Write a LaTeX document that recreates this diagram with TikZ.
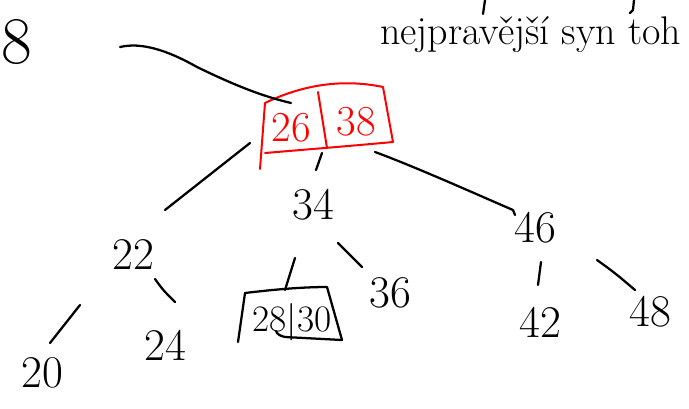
\documentclass[tikz,border=0pt]{standalone}
\usetikzlibrary{calc}
\tikzset{
  num/.style={inner sep=0pt, font=\fontsize{34}{36}\selectfont},
  rednum/.style={inner sep=0pt, text=red, font=\fontsize{32}{34}\selectfont},
  pen/.style={line width=1.7pt, line cap=round, line join=round, black},
  redpen/.style={line width=1.5pt, line cap=round, line join=round, red},
}
\begin{document}
\begin{tikzpicture}[x=0.75pt,y=-0.75pt]
\useasboundingbox (0,0) rectangle (689,408);
% nodes
\node[num, font=\fontsize{50}{52}\selectfont] (n8) at (17,42) {8};
\node[rednum] (n26) at (291,128) {26};
\node[rednum] (n38) at (356,122) {38};
\node[num] (n34) at (313,205) {34};
\node[num] (n22) at (133,255) {22};
\node[num] (n46) at (535,228) {46};
\node[num] (n24) at (165,345) {24};
\node[num] (n20) at (42,373) {20};
\node[num] (n36) at (390,293) {36};
\node[num, font=\fontsize{28}{30}\selectfont] (n2830) at (292,322) {28|30};
\node[num] (n42) at (540,322) {42};
\node[num] (n48) at (650,312) {48};
\node[num, font=\fontsize{30}{32}\selectfont, anchor=base west] (txt) at (380,44) {nejpravější syn toh};
% red box
\draw[redpen] (265,103) .. controls (300,86) and (340,78) .. (383,87) -- (393,142)
  .. controls (350,146) and (300,150) .. (265,153);
\draw[redpen] (265,103) -- (260,169);
\draw[redpen] (318,92) -- (327,148);
% 28|30 box
\draw[pen] (245,293) .. controls (270,290) and (300,287) .. (327,287) -- (342,340)
  -- (285,337) .. controls (280,336) and (277,334) .. (276,331);
\draw[pen] (245,293) -- (238,342);
% fragments of a line above
\draw[pen] (485,0) -- (483,14);
\draw[pen] (634,0) -- (633,10) -- (630,13);
% connectors
\draw[pen] ($(n8)+(103,5)$) .. controls ($(n8)+(124,0)$) and ($(n8)+(150,8)$) .. ($(n8)+(180,25)$) .. controls ($(n8)+(215,42)$) and ($(n26)+(-30,-32)$) .. ($(n26)+(0,-25)$);
\draw[pen] ($(n22)+(32,-45)$) -- ($(n26)+(-41,15)$);
\draw[pen] ($(n34)+(3,-35)$) -- ($(n26)+(31,25)$);
\draw[pen] ($(n38)+(19,30)$) .. controls ($(n38)+(60,45)$) and ($(n46)+(-50,-30)$) .. ($(n46)+(-22,-18)$) -- ($(n46)+(-20,-13)$);
\draw[pen] ($(n22)+(22,24)$) .. controls ($(n22)+(30,35)$) .. ($(n24)+(10,-43)$);
\draw[pen] ($(n22)+(-53,50)$) -- ($(n20)+(8,-30)$);
\draw[pen] ($(n34)+(-18,53)$) -- ($(n2830)+(-7,-32)$);
\draw[pen] ($(n34)+(25,38)$) .. controls ($(n34)+(35,48)$) .. ($(n36)+(-28,-26)$);
\draw[pen] ($(n46)+(6,34)$) -- ($(n42)+(-2,-37)$);
\draw[pen] ($(n46)+(62,32)$) .. controls ($(n46)+(80,45)$) .. ($(n48)+(-15,-22)$);
\end{tikzpicture}
\end{document}
